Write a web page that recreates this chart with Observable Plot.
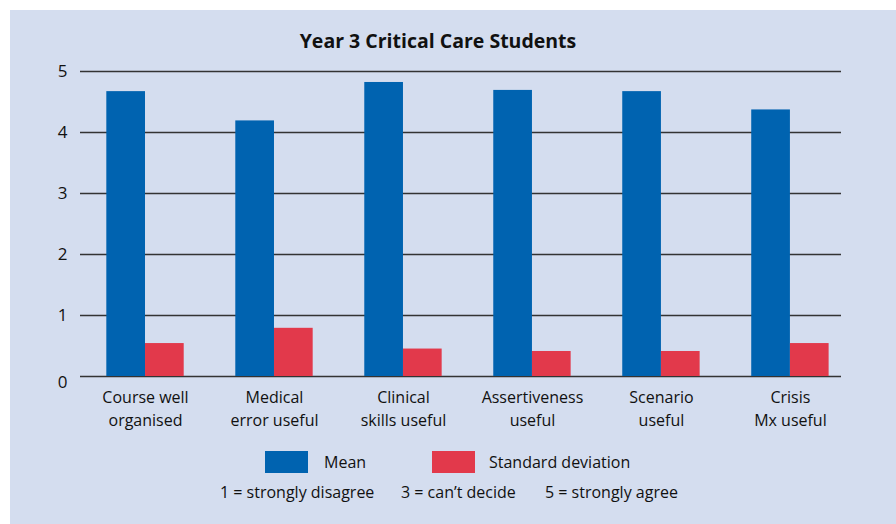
<!DOCTYPE html>
<html>
<head>
<meta charset="utf-8">
<script src="https://cdn.jsdelivr.net/npm/d3@7"></script>
<script src="https://cdn.jsdelivr.net/npm/@observablehq/plot@0.6"></script>
<style>
  html, body { margin: 0; padding: 0; background: #ffffff; }
  body { width: 896px; height: 524px; position: relative; overflow: hidden; font-family: "Open Sans", sans-serif; color: #111; }
  #panel { position: absolute; left: 10px; top: 10px; width: 886px; height: 514px; background: #d4ddef; }
  #title { position: absolute; left: 0; width: 876px; top: 27px; text-align: center; font-weight: bold; font-size: 19.5px; color: #111; }
  #chart { position: absolute; left: 0; top: 0; }
  .leg { position: absolute; font-size: 16px; color: #111; white-space: nowrap; }
  .sw { position: absolute; width: 43px; height: 22px; }
</style>
</head>
<body>
<div id="panel"></div>
<div id="chart"></div>
<div id="title">Year 3 Critical Care Students</div>
<div class="sw" style="left:265px; top:451px; background:#0063b0"></div>
<div class="leg" style="left:324px; top:451px">Mean</div>
<div class="sw" style="left:432px; top:451px; background:#e2394b"></div>
<div class="leg" style="left:489px; top:451px">Standard deviation</div>
<div class="leg" style="left:220px; top:481px">1 = strongly disagree</div>
<div class="leg" style="left:401px; top:481px">3 = can’t decide</div>
<div class="leg" style="left:545px; top:481px">5 = strongly agree</div>
<script>
const categories = ["Course well\norganised", "Medical\nerror useful", "Clinical\nskills useful", "Assertiveness\nuseful", "Scenario\nuseful", "Crisis\nMx useful"];
const meanValues = [4.67, 4.19, 4.82, 4.69, 4.67, 4.37];
const sdValues = [0.54, 0.79, 0.45, 0.41, 0.41, 0.54];
const yTicks = [0, 1, 2, 3, 4, 5];

const meanData = categories.map((c, i) => ({category: c, value: meanValues[i]}));
const sdData = categories.map((c, i) => ({category: c, value: sdValues[i]}));

const plot = Plot.plot({
  width: 896,
  height: 440,
  marginTop: 71,
  marginBottom: 64,
  marginLeft: 80,
  marginRight: 55,
  style: {background: "transparent", fontFamily: "Open Sans, sans-serif", color: "#111"},
  x: {domain: categories, paddingInner: 0.4, paddingOuter: 0.15, align: 0.68, round: false},
  y: {domain: [0, 5]},
  marks: [
    Plot.ruleY(yTicks, {stroke: "#333", strokeWidth: 1.5}),
    Plot.barY(meanData, {x: "category", y: "value", fill: "#0063b0", insetRight: 38.7}),
    Plot.barY(sdData, {x: "category", y: "value", fill: "#e2394b", insetLeft: 38.7}),
    Plot.axisY({ticks: yTicks.slice(1), tickSize: 0, tickPadding: 13, fontSize: 17, label: null, tickFormat: d => String(d)}),
    Plot.axisY({ticks: [yTicks[0]], tickSize: 0, tickPadding: 13, fontSize: 17, dy: 6, label: null, tickFormat: d => String(d)}),
    Plot.axisX({tickSize: 0, tickPadding: 11, fontSize: 16, lineHeight: 1.4, label: null})
  ]
});
document.getElementById("chart").appendChild(plot);
</script>
</body>
</html>
